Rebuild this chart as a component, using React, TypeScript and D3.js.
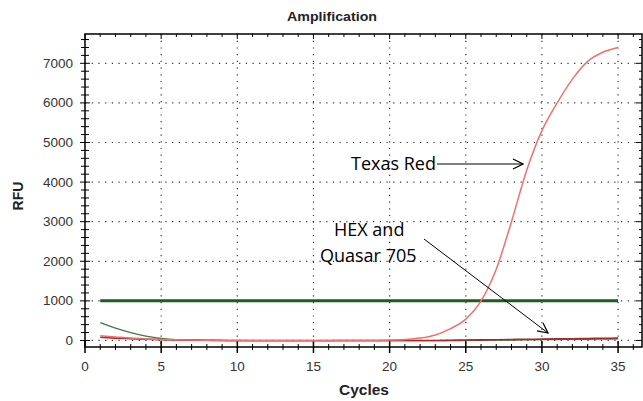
import * as d3 from 'd3'

const cycles = d3.range(1, 36)
// RFU per cycle
const texasRed = [120, 90, 60, 40, 25, 15, 10, 5, 0, 0, -5, -5, -5, -5, -5, -5, 0, 0, 0, 10, 25, 60, 140, 300, 540, 1000, 1800, 3000, 4300, 5300, 6000, 6600, 7050, 7280, 7400]
const quasar = [80, 60, 45, 30, 20, 12, 8, 4, 0, 0, 0, 0, 0, 0, 0, 0, 0, 0, 0, 0, 0, 0, 0, 5, 10, 15, 20, 25, 30, 35, 40, 45, 50, 55, 60]
const hex = [450, 310, 200, 110, 50, 20, 8, 3, 0, -5, -5, -5, -5, -5, -5, -5, -5, -5, -5, -5, -5, -5, -5, -5, 0, 5, 10, 10, 15, 20, 25, 30, 30, 35, 40]
const threshold = 1000
const xTicks = [0, 5, 10, 15, 20, 25, 30, 35]
const yTicks = [0, 1000, 2000, 3000, 4000, 5000, 6000, 7000]

const W = 643
const H = 401
const L = 85
const R = 642
const T = 34
const B = 347

export default function App() {
  const x = d3.scaleLinear().domain([0, 36.57]).range([L, R])
  const y = d3.scaleLinear().domain([-165, 7740]).range([B, T])
  const line = (vals: number[]) =>
    d3
      .line<number>()
      .x((_, i) => x(cycles[i]))
      .y((v) => y(v))
      .curve(d3.curveMonotoneX)(vals) || ''

  const xMinor = d3.range(0, 37, 1)
  const yMinor = d3.range(-200, 7800, 200).filter((v) => y(v) <= B && y(v) >= T)
  const font = 'Liberation Sans, Arial, sans-serif'
  const noteFont = 'Open Sans, sans-serif'

  return (
    <svg width={W} height={H} style={{ position: 'absolute', left: 0, top: 0, background: '#fff' }}>
      <defs>
        <marker id="arr" viewBox="0 0 12 12" refX="11" refY="6" markerWidth="12" markerHeight="12" orient="auto" markerUnits="userSpaceOnUse">
          <path d="M1,1 L11,6 L1,11" fill="none" stroke="#000" strokeWidth="1.2" />
        </marker>
      </defs>
      <text x={332} y={21} textAnchor="middle" fontFamily={font} fontWeight="bold" fontSize={12.5} fill="#222" textLength={90} lengthAdjust="spacingAndGlyphs">
        Amplification
      </text>

      {/* grid */}
      {xTicks.slice(1).map((t) => (
        <line key={'gx' + t} x1={x(t)} x2={x(t)} y1={T} y2={B} stroke="#333" strokeWidth={1.2} strokeDasharray="1.2 5.5" />
      ))}
      {yTicks.map((t) => (
        <line key={'gy' + t} x1={L} x2={R} y1={y(t)} y2={y(t)} stroke="#333" strokeWidth={1.2} strokeDasharray="1.2 5.5" />
      ))}

      {/* frame */}
      <rect x={L} y={T} width={R - L} height={B - T} fill="none" stroke="#000" strokeWidth={1.5} />

      {/* x ticks bottom/top */}
      {xMinor.map((t) => {
        const major = t % 5 === 0
        return (
          <g key={'xt' + t}>
            <line x1={x(t)} x2={x(t)} y1={B - (major ? 6 : 3)} y2={B + (major ? 6 : 3)} stroke="#000" strokeWidth={major ? 1.5 : 1} />
            <line x1={x(t)} x2={x(t)} y1={T} y2={T + (major ? 5 : 3)} stroke="#000" strokeWidth={1} />
          </g>
        )
      })}
      {/* y ticks left/right */}
      {yMinor.map((t) => {
        const major = t % 1000 === 0
        return (
          <g key={'yt' + t}>
            <line x1={L - (major ? 5 : 4)} x2={L + (major ? 5 : 4)} y1={y(t)} y2={y(t)} stroke="#000" strokeWidth={1} />
            <line x1={R - (major ? 6 : 3)} x2={R} y1={y(t)} y2={y(t)} stroke="#000" strokeWidth={1} />
          </g>
        )
      })}

      {xTicks.map((t) => (
        <text key={'xl' + t} x={x(t)} y={371} textAnchor="middle" fontFamily={font} fontSize={13.5} fill="#333">
          {t}
        </text>
      ))}
      {yTicks.map((t) => (
        <text key={'yl' + t} x={L - 12} y={y(t) + 4.5} textAnchor="end" fontFamily={font} fontSize={13.5} fill="#333">
          {t}
        </text>
      ))}
      <text x={364} y={395} textAnchor="middle" fontFamily={font} fontWeight="bold" fontSize={14} fill="#222" textLength={50} lengthAdjust="spacingAndGlyphs">
        Cycles
      </text>
      <text transform={`translate(23,${196}) rotate(-90)`} textAnchor="middle" fontFamily={font} fontWeight="bold" fontSize={14} fill="#222">
        RFU
      </text>

      {/* threshold */}
      <line x1={x(1)} x2={x(35)} y1={y(threshold)} y2={y(threshold)} stroke="#1f5a1f" strokeWidth={3} />

      {/* curves */}
      <path d={line(hex)} fill="none" stroke="#3c7a46" strokeWidth={1.3} />
      <path d={line(quasar)} fill="none" stroke="#a8282a" strokeWidth={1.6} />
      <path d={line(texasRed)} fill="none" stroke="#f07070" strokeWidth={1.5} />

      {/* annotations */}
      <text x={351} y={170} fontFamily={noteFont} fontSize={18} fill="#000">
        Texas Red
      </text>
      <line x1={437} y1={164} x2={523} y2={164} stroke="#000" strokeWidth={1} markerEnd="url(#arr)" />
      <text x={334} y={236} fontFamily={noteFont} fontSize={18} fill="#000">
        HEX and
      </text>
      <text x={320} y={262} fontFamily={noteFont} fontSize={18} fill="#000">
        Quasar 705
      </text>
      <line x1={424} y1={239} x2={548} y2={333} stroke="#000" strokeWidth={1} markerEnd="url(#arr)" />
    </svg>
  )
}
